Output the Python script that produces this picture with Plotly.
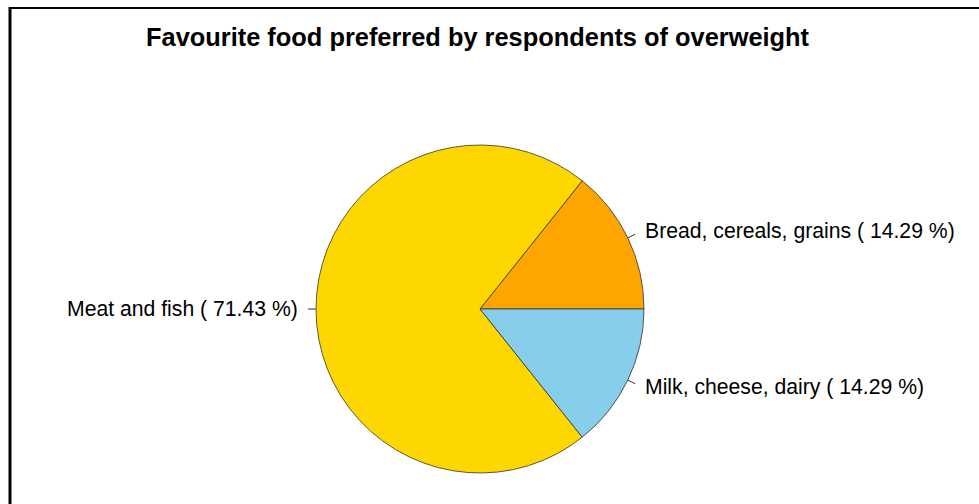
import math
import plotly.graph_objects as go

categories = ["Bread, cereals, grains", "Meat and fish", "Milk, cheese, dairy"]
values = [1, 5, 1]
colors = ["#FFA500", "#FFD700", "#87CEEB"]
title = "Favourite food preferred by respondents of overweight"

W, H = 979, 504
cx, cy, r = 480, 309, 164  # pixel geometry of the pie

total = sum(values)
pct = [v / total * 100 for v in values]
# plotly (counterclockwise) ends the first slice at `rotation`; start it at 3 o'clock like R
rotation = 90 - 360 * values[0] / total

fig = go.Figure(go.Pie(
    labels=categories, values=values, sort=False,
    direction="counterclockwise", rotation=rotation,
    marker=dict(colors=colors, line=dict(color="#333333", width=0.8)),
    textinfo="none", hoverinfo="label+percent",
    domain=dict(x=[(cx - r) / W, (cx + r) / W], y=[(H - cy - r) / H, (H - cy + r) / H]),
    showlegend=False,
))

def px(x):
    return x / W

def py(y):
    return 1 - y / H

shapes = [
    dict(type="line", xref="paper", yref="paper", x0=px(9), x1=1.0, y0=py(8), y1=py(8),
         line=dict(color="black", width=2)),
    dict(type="line", xref="paper", yref="paper", x0=px(10), x1=px(10), y0=py(7), y1=0,
         line=dict(color="black", width=3)),
]
annotations = [
    dict(text="<b>" + title + "</b>", xref="paper", yref="paper", x=px(478), y=py(37),
         showarrow=False, xanchor="center", yanchor="middle",
         font=dict(family="Liberation Sans, Arial", size=25.4, color="black")),
]

cum = 0.0
for lab, v, p in zip(categories, values, pct):
    mid = (cum + v / 2) / total * 2 * math.pi
    cum += v
    c, s = math.cos(mid), math.sin(mid)
    shapes.append(dict(type="line", xref="paper", yref="paper",
                       x0=px(cx + r * c), y0=py(cy - r * s),
                       x1=px(cx + 1.05 * r * c), y1=py(cy - 1.05 * r * s),
                       line=dict(color="#333333", width=1)))
    annotations.append(dict(
        text=f"{lab} ( {p:.2f} %)", xref="paper", yref="paper",
        x=px(cx + 1.1 * r * c), y=py(cy - 1.1 * r * s), showarrow=False,
        xanchor="left" if c >= 0 else "right", yanchor="middle",
        font=dict(family="Liberation Sans, Arial", size=21.2, color="black")))

fig.update_layout(
    width=W, height=H, margin=dict(l=0, r=0, t=0, b=0),
    paper_bgcolor="white", plot_bgcolor="white",
    shapes=shapes, annotations=annotations,
)
fig.write_html("out.html", config={"displayModeBar": False},
               post_script="document.body.style.margin='0';document.body.style.overflow='hidden';")
